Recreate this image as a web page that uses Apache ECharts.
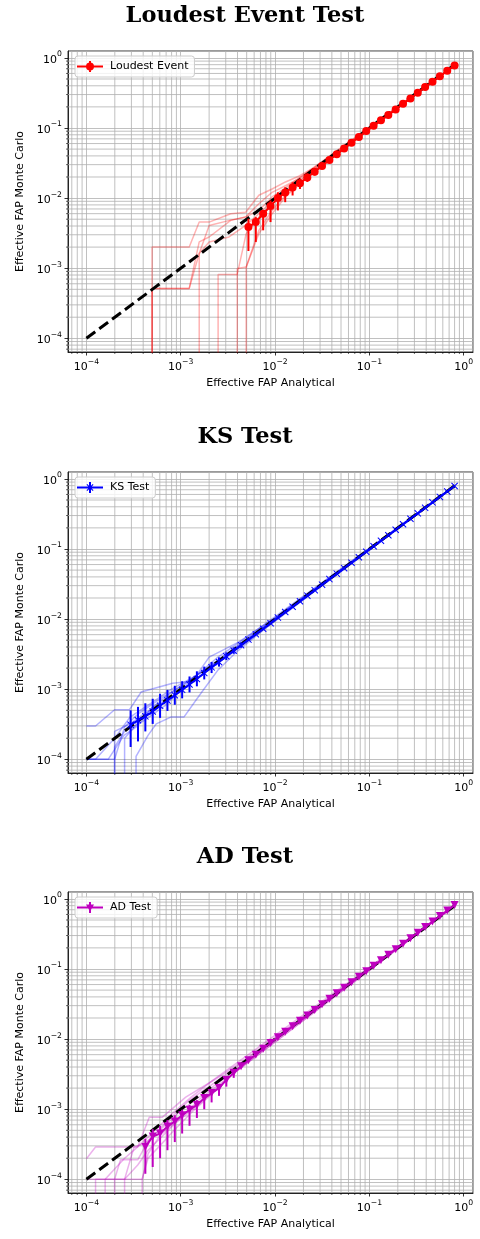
<!DOCTYPE html>
<html><head><meta charset="utf-8">
<script src="https://cdn.jsdelivr.net/npm/echarts@6/dist/echarts.min.js"></script>
<style>html,body{margin:0;padding:0;background:#fff}#c{width:480px;height:1239px}</style>
</head><body><div id="c"></div>
<script>
// ---- data ----
const X_FAP = [1.000e-4, 1.197e-4, 1.433e-4, 1.715e-4, 2.053e-4, 2.457e-4, 2.942e-4, 3.521e-4, 4.215e-4, 5.045e-4,
  6.039e-4, 7.228e-4, 8.652e-4, 1.035e-3, 1.239e-3, 1.483e-3, 1.775e-3, 2.124e-3, 2.543e-3, 3.043e-3,
  3.643e-3, 4.360e-3, 5.219e-3, 6.247e-3, 7.478e-3, 8.951e-3, 1.071e-2, 1.281e-2, 1.534e-2, 1.836e-2,
  2.198e-2, 2.630e-2, 3.148e-2, 3.768e-2, 4.510e-2, 5.398e-2, 6.461e-2, 7.734e-2, 9.256e-2, 0.1108,
  0.1326, 0.1587, 0.1899, 0.2274, 0.2722, 0.3257, 0.3898, 0.4667, 0.5585, 0.6685, 0.8000];
const AXIS_RANGE = [6.381e-5, 1.2538];
const TICK_EXPONENTS = [-4, -3, -2, -1, 0];
const MINOR_TICKS = [7e-5, 8e-5, 9e-5,
  2e-4, 3e-4, 4e-4, 5e-4, 6e-4, 7e-4, 8e-4, 9e-4,
  2e-3, 3e-3, 4e-3, 5e-3, 6e-3, 7e-3, 8e-3, 9e-3,
  2e-2, 3e-2, 4e-2, 5e-2, 6e-2, 7e-2, 8e-2, 9e-2,
  0.2, 0.3, 0.4, 0.5, 0.6, 0.7, 0.8, 0.9];
const DIAGONAL = [[1e-4, 1e-4], [0.8, 0.8]];
const CZ = 1e-6; // zero FAP (clipped below the axis, as on a log plot)

// Loudest Event
const LE_START = 22;
const LE_Y = [3.86e-3, 4.55e-3, 5.98e-3, 7.7e-3, 1.0e-2, 1.2e-2, 1.42e-2, 1.63e-2, 1.97e-2, 2.37e-2,
  2.88e-2, 3.5e-2, 4.23e-2, 5.08e-2, 6.18e-2, 7.45e-2, 9.06e-2, 0.108, 0.1285, 0.153,
  0.184, 0.222, 0.264, 0.318, 0.383, 0.456, 0.548, 0.653, 0.778];
const LE_LO = [1.76e-3, 2.37e-3, 3.47e-3, 4.55e-3, 6.67e-3, 8.75e-3, 1.09e-2, 1.35e-2, 1.7e-2, 2.1e-2, 2.6e-2, 3.25e-2];
const LE_HI = [5.08e-3, 5.36e-3, 6.67e-3, 9.25e-3, 1.21e-2, 1.43e-2, 1.68e-2, 1.9e-2, 2.25e-2, 2.65e-2, 3.15e-2, 3.75e-2];
const LE_RUNS = [
  [[4.97e-4,CZ],[4.97e-4,2.01e-3],[1.23e-3,2.01e-3],[1.57e-3,4.55e-3],[2.0e-3,4.55e-3],[3.39e-3,5.98e-3],[4.88e-3,6.3e-3],[6.73e-3,1.1e-2],[9.3e-3,1.35e-2],[1.29e-2,1.7e-2],[1.78e-2,2.05e-2],[2.45e-2,2.6e-2],[3.13e-2,3.2e-2],[0.8,0.78]],
  [[4.97e-4,CZ],[4.97e-4,5.15e-4],[1.23e-3,5.15e-4],[1.57e-3,1.62e-3],[2.0e-3,2.37e-3],[3.25e-3,2.79e-3],[4.88e-3,4.08e-3],[6.73e-3,5.98e-3],[9.3e-3,9e-3],[1.29e-2,1.25e-2],[1.78e-2,1.75e-2],[0.8,0.78]],
  [[1.57e-3,CZ],[1.57e-3,1.62e-3],[2.0e-3,4.08e-3],[3.3e-3,4.81e-3],[4.9e-3,5.4e-3],[6.73e-3,8.3e-3],[9.3e-3,1.21e-2],[1.29e-2,1.5e-2],[1.78e-2,1.9e-2],[2.45e-2,2.5e-2],[0.8,0.78]],
  [[2.49e-3,CZ],[2.49e-3,8.15e-4],[3.97e-3,8.15e-4],[4.94e-3,3.11e-3],[6.73e-3,5.36e-3],[9.3e-3,8.3e-3],[1.29e-2,1.2e-2],[1.78e-2,1.7e-2],[2.45e-2,2.4e-2],[0.8,0.78]],
  [[3.97e-3,CZ],[3.97e-3,9.9e-4],[4.94e-3,1.04e-3],[6.73e-3,3.47e-3],[9.3e-3,6.67e-3],[1.29e-2,1.1e-2],[1.78e-2,1.6e-2],[2.45e-2,2.3e-2],[0.8,0.78]],
  [[4.94e-3,CZ],[4.94e-3,1.04e-3],[6.73e-3,3.11e-3],[9.3e-3,5.98e-3],[1.29e-2,1.04e-2],[1.78e-2,1.55e-2],[2.45e-2,2.2e-2],[3.13e-2,2.9e-2],[0.8,0.78]],
  [[4.97e-4,CZ],[4.97e-4,5.15e-4],[1.23e-3,5.15e-4],[1.57e-3,2.37e-3],[2.0e-3,2.79e-3],[3.39e-3,4.81e-3],[4.88e-3,5.36e-3],[6.73e-3,6.67e-3],[9.3e-3,1.04e-2],[1.29e-2,1.4e-2],[0.8,0.78]]
];

// KS Test
const KS_START = 6;
const KS_Y = [3.1e-4, 3.6e-4, 4.1e-4, 4.8e-4, 5.8e-4, 6.9e-4, 8.2e-4, 9.8e-4, 1.17e-3, 1.4e-3,
  1.7e-3, 2.05e-3, 2.45e-3, 2.95e-3, 3.55e-3, 4.25e-3, 5.1e-3, 6.1e-3, 7.3e-3, 8.75e-3,
  1.05e-2, 1.26e-2, 1.5e-2, 1.8e-2, 2.16e-2, 2.59e-2, 3.1e-2, 3.72e-2, 4.45e-2, 5.33e-2,
  6.38e-2, 7.64e-2, 9.15e-2, 0.1096, 0.1312, 0.1571, 0.188, 0.2252, 0.2695, 0.3226,
  0.3862, 0.4624, 0.5535, 0.6625, 0.7925];
const KS_LO = [1.5e-4, 1.8e-4, 2.5e-4, 3.2e-4, 3.9e-4, 4.9e-4, 6.0e-4, 7.4e-4, 9.0e-4, 1.1e-3, 1.38e-3, 1.7e-3, 2.1e-3, 2.6e-3, 3.2e-3, 3.9e-3];
const KS_HI = [5.0e-4, 5.6e-4, 6.3e-4, 7.3e-4, 8.6e-4, 9.8e-4, 1.12e-3, 1.3e-3, 1.52e-3, 1.8e-3, 2.1e-3, 2.45e-3, 2.85e-3, 3.35e-3, 3.95e-3, 4.65e-3];
const KS_RUNS = [
  [[1e-4,2.99e-4],[1.25e-4,2.99e-4],[1.99e-4,5.1e-4],[2.86e-4,5.1e-4],[3.8e-4,9.1e-4],[8.2e-4,1.22e-3],[1.33e-3,1.3e-3],[2.0e-3,2.87e-3],[4.1e-3,4.7e-3],[1e-2,1.05e-2],[0.8,0.79]],
  [[1e-4,1e-4],[1.7e-4,1e-4],[2.5e-4,2.2e-4],[3.5e-4,3.0e-4],[5e-4,5.5e-4],[8e-4,9e-4],[1.5e-3,1.6e-3],[3e-3,3.1e-3],[0.8,0.79]],
  [[1e-4,1e-4],[1.99e-4,1e-4],[2.54e-4,2.9e-4],[3.5e-4,4.4e-4],[6e-4,7.2e-4],[1e-3,1.1e-3],[2e-3,2.1e-3],[0.8,0.79]],
  [[1.99e-4,CZ],[1.99e-4,2.5e-4],[2.9e-4,3.2e-4],[4.2e-4,4.6e-4],[7e-4,6.6e-4],[1.2e-3,1.15e-3],[0.8,0.79]],
  [[2.54e-4,CZ],[2.54e-4,2.0e-4],[3.5e-4,3.3e-4],[5e-4,5.5e-4],[9e-4,8.5e-4],[0.8,0.79]],
  [[3.36e-4,CZ],[3.36e-4,1.1e-4],[4.5e-4,2.2e-4],[5.5e-4,3.2e-4],[7.85e-4,4.0e-4],[1.08e-3,4.0e-4],[1.63e-3,8.7e-4],[2.5e-3,1.9e-3],[4e-3,3.5e-3],[8e-3,7.5e-3],[0.8,0.79]],
  [[1.99e-4,CZ],[1.99e-4,1.5e-4],[2.54e-4,2.5e-4],[4e-4,3.5e-4],[7e-4,6e-4],[1.2e-3,1.25e-3],[2.5e-3,2.9e-3],[5e-3,5.5e-3],[0.8,0.79]],
  [[1e-4,1e-4],[1.25e-4,1.0e-4],[1.99e-4,2.0e-4],[2.9e-4,4.0e-4],[5e-4,6.5e-4],[8e-4,1.0e-3],[1.5e-3,1.6e-3],[3e-3,2.8e-3],[6e-3,5.6e-3],[0.8,0.79]]
];

// AD Test
const AD_START = 8;
const AD_Y = [2.9e-4, 4.07e-4, 4.5e-4, 5.65e-4, 6.7e-4, 8.2e-4, 9.8e-4, 1.15e-3, 1.44e-3, 1.7e-3,
  2.0e-3, 2.62e-3, 3.3e-3, 4.1e-3, 5.0e-3, 6.0e-3, 7.3e-3, 8.8e-3, 1.06e-2, 1.27e-2,
  1.52e-2, 1.82e-2, 2.18e-2, 2.61e-2, 3.13e-2, 3.75e-2, 4.5e-2, 5.4e-2, 6.46e-2, 7.75e-2,
  9.3e-2, 0.1115, 0.1335, 0.16, 0.1915, 0.2295, 0.275, 0.33, 0.396, 0.474,
  0.568, 0.681, 0.815];
const AD_LO = [1.2e-4, 1.5e-4, 2.0e-4, 2.6e-4, 3.4e-4, 4.5e-4, 5.8e-4, 7.5e-4, 1.0e-3, 1.25e-3, 1.55e-3, 2.1e-3, 2.8e-3];
const AD_HI = [3.8e-4, 5.2e-4, 5.8e-4, 7.0e-4, 8.2e-4, 9.8e-4, 1.15e-3, 1.35e-3, 1.65e-3, 1.95e-3, 2.3e-3, 2.95e-3, 3.6e-3];
const AD_RUNS = [
  [[1e-4,1.97e-4],[1.25e-4,2.89e-4],[3.5e-4,2.89e-4],[4.64e-4,7.7e-4],[6.4e-4,7.7e-4],[1.13e-3,1.49e-3],[2.54e-3,2.88e-3],[5e-3,5.3e-3],[0.8,0.8]],
  [[1.25e-4,CZ],[1.25e-4,1e-4],[1.99e-4,1e-4],[2.3e-4,1.9e-4],[3.5e-4,1.9e-4],[4.5e-4,3.5e-4],[7e-4,6.5e-4],[1.2e-3,1.3e-3],[2.5e-3,2.6e-3],[0.8,0.8]],
  [[1.58e-4,CZ],[1.58e-4,1e-4],[2.54e-4,1e-4],[3.5e-4,1.6e-4],[4.5e-4,2.6e-4],[6e-4,3.8e-4],[9e-4,6.5e-4],[1.6e-3,1.2e-3],[2.5e-3,2.1e-3],[4e-3,3.6e-3],[8e-3,7.8e-3],[0.8,0.8]],
  [[1.99e-4,CZ],[1.99e-4,1e-4],[3.9e-4,1e-4],[4.5e-4,2.0e-4],[6e-4,3.0e-4],[8.5e-4,5e-4],[1.3e-3,9e-4],[2.2e-3,1.7e-3],[3.5e-3,3.1e-3],[0.8,0.8]],
  [[3.9e-4,CZ],[3.9e-4,1e-4],[4.5e-4,2.3e-4],[6e-4,4.2e-4],[1e-3,7.5e-4],[1.6e-3,1.4e-3],[0.8,0.8]],
  [[1e-4,1e-4],[1.58e-4,1e-4],[2.54e-4,2.0e-4],[3.5e-4,2.9e-4],[5e-4,4.6e-4],[8e-4,8.5e-4],[1.3e-3,1.5e-3],[2.2e-3,2.6e-3],[0.8,0.8]],
  [[2.54e-4,CZ],[2.54e-4,1e-4],[3.2e-4,2.89e-4],[4.2e-4,3.3e-4],[6e-4,5e-4],[1e-3,9.5e-4],[0.8,0.8]]
];

// ---- chart ----
const FONT = 'DejaVu Sans';
const GRID_TOP = [51, 472, 892];
const GRID_LEFT = 68, GRID_W = 405, GRID_H = 301;
const X_SYMBOL = 'path://M0,1L1,0L5,4L9,0L10,1L6,5L10,9L9,10L5,6L1,10L0,9L4,5Z';
const BAR_ICON = 'M0,6H26V8H0Z M12,1.5H14V12.5H12Z M28,0L28,0 M0,14L0,14 ';
const PANELS = [
  {title:'Loudest Event Test', name:'Loudest Event', color:'#ff0000', start:LE_START, y:LE_Y, lo:LE_LO, hi:LE_HI, runs:LE_RUNS,
   symbol:'circle', size:8, rotate:0, icon:'path://' + BAR_ICON + 'M9,7A4,4 0 1,1 17,7A4,4 0 1,1 9,7Z'},
  {title:'KS Test', name:'KS Test', color:'#0000ff', start:KS_START, y:KS_Y, lo:KS_LO, hi:KS_HI, runs:KS_RUNS,
   symbol:X_SYMBOL, size:7, rotate:0, icon:'path://' + BAR_ICON + 'M9.5,4.3L10.3,3.5L13,6.2L15.7,3.5L16.5,4.3L13.8,7L16.5,9.7L15.7,10.5L13,7.8L10.3,10.5L9.5,9.7L12.2,7Z'},
  {title:'AD Test', name:'AD Test', color:'#bf00bf', start:AD_START, y:AD_Y, lo:AD_LO, hi:AD_HI, runs:AD_RUNS,
   symbol:'triangle', size:8, rotate:180, icon:'path://' + BAR_ICON + 'M9,4H17L13,11Z'}
];

function powLabel(v) {
  const e = Math.log10(v), r = Math.round(e);
  if (Math.abs(e - r) > 0.01 || TICK_EXPONENTS.indexOf(r) < 0) return '';
  return '{b|10}{s|' + (r < 0 ? '\u2212' + (-r) : String(r)) + '}';
}
const RICH = {
  b: {fontSize: 11, fontFamily: FONT, color: '#000', lineHeight: 15, verticalAlign: 'bottom'},
  s: {fontSize: 7.7, fontFamily: FONT, color: '#000', lineHeight: 15, verticalAlign: 'top'}
};
function axisCommon(k) {
  return {
    type: 'log', logBase: 10, gridIndex: k, min: AXIS_RANGE[0], max: AXIS_RANGE[1],
    nameLocation: 'middle',
    nameTextStyle: {fontSize: 11, fontFamily: FONT, color: '#000'},
    axisLine: {show: true, onZero: false, lineStyle: {color: '#000', width: 0.8}},
    axisTick: {show: true, length: 3.5, lineStyle: {color: '#000', width: 0.8}},
    axisLabel: {formatter: powLabel, rich: RICH, showMinLabel: false, showMaxLabel: false},
    splitLine: {show: true, lineStyle: {color: '#b0b0b0', width: 0.8}},
    minorTick: {show: false}, minorSplitLine: {show: false}
  };
}

const option = {animation: false, backgroundColor: '#ffffff', title: [], grid: [], xAxis: [], yAxis: [], legend: [], series: []};
PANELS.forEach((p, k) => {
  option.title.push({text: p.title, left: 240, top: GRID_TOP[k] - 51, textAlign: 'center',
    textStyle: {fontFamily: 'DejaVu Serif', fontWeight: 'bold', fontSize: 22.5, color: '#000'}});
  option.grid.push({left: GRID_LEFT, top: GRID_TOP[k], width: GRID_W, height: GRID_H, show: true,
    borderColor: '#000', borderWidth: 0.8, backgroundColor: 'transparent', containLabel: false, outerBoundsMode: 'none'});
  const xa = axisCommon(k); xa.name = 'Effective FAP Analytical'; xa.nameGap = 26; xa.axisLabel.margin = 6;
  const ya = axisCommon(k); ya.name = 'Effective FAP Monte Carlo'; ya.nameGap = 40; ya.axisLabel.margin = 6;
  option.xAxis.push(xa); option.yAxis.push(ya);
  option.legend.push({data: [{name: p.name, icon: p.icon}], left: 75, top: GRID_TOP[k] + 5,
    itemWidth: 28, itemHeight: 14, padding: [3.5, 6, 3.5, 2], backgroundColor: 'rgba(255,255,255,0.8)',
    borderColor: '#cccccc', borderWidth: 1, borderRadius: 3, selectedMode: false, z: 10,
    textStyle: {fontFamily: FONT, fontSize: 11, color: '#000'}});
  // minor grid lines and minor ticks
  option.series.push({type: 'custom', xAxisIndex: k, yAxisIndex: k, silent: true, z: 1, clip: false,
    data: MINOR_TICKS.map(v => [v, v]), encode: {x: 0, y: 1},
    renderItem: function (params, api) {
      const cs = params.coordSys; const pt = api.coord([api.value(0), api.value(1)]);
      const x0 = cs.x, x1 = cs.x + cs.width, y0 = cs.y, y1 = cs.y + cs.height;
      return {type: 'group', children: [
        {type: 'line', shape: {x1: pt[0], y1: y0, x2: pt[0], y2: y1}, style: {stroke: '#b0b0b0', lineWidth: 0.8}},
        {type: 'line', shape: {x1: x0, y1: pt[1], x2: x1, y2: pt[1]}, style: {stroke: '#b0b0b0', lineWidth: 0.8}},
        {type: 'line', shape: {x1: pt[0], y1: y1, x2: pt[0], y2: y1 + 2}, style: {stroke: '#000', lineWidth: 0.6}},
        {type: 'line', shape: {x1: x0, y1: pt[1], x2: x0 - 2, y2: pt[1]}, style: {stroke: '#000', lineWidth: 0.6}}
      ]};
    }});
  p.runs.forEach(run => option.series.push({type: 'line', xAxisIndex: k, yAxisIndex: k, data: run,
    symbol: 'none', showSymbol: false, silent: true, clip: true, z: 2,
    lineStyle: {color: p.color, width: 1.5, opacity: 0.3}}));
  option.series.push({type: 'line', xAxisIndex: k, yAxisIndex: k, data: DIAGONAL, symbol: 'none', silent: true, z: 3,
    lineStyle: {color: '#000', width: 3, type: [11, 5]}});
  option.series.push({type: 'custom', xAxisIndex: k, yAxisIndex: k, silent: true, z: 4, clip: true,
    data: p.lo.map((lo, j) => [X_FAP[p.start + j], lo, p.hi[j]]), encode: {x: 0, y: [1, 2]},
    renderItem: function (params, api) {
      const a = api.coord([api.value(0), api.value(1)]), b = api.coord([api.value(0), api.value(2)]);
      return {type: 'line', shape: {x1: a[0], y1: a[1], x2: b[0], y2: b[1]}, style: {stroke: p.color, lineWidth: 2}};
    }});
  option.series.push({type: 'line', name: p.name, xAxisIndex: k, yAxisIndex: k,
    data: p.y.map((y, j) => [X_FAP[p.start + j], y]), symbol: p.symbol, symbolSize: p.size, symbolRotate: p.rotate,
    showAllSymbol: true, silent: true, z: 5, lineStyle: {color: p.color, width: 2}, itemStyle: {color: p.color}});
});

const chart = echarts.init(document.getElementById('c'), null, {renderer: 'canvas'});
chart.setOption(option);
</script></body></html>
